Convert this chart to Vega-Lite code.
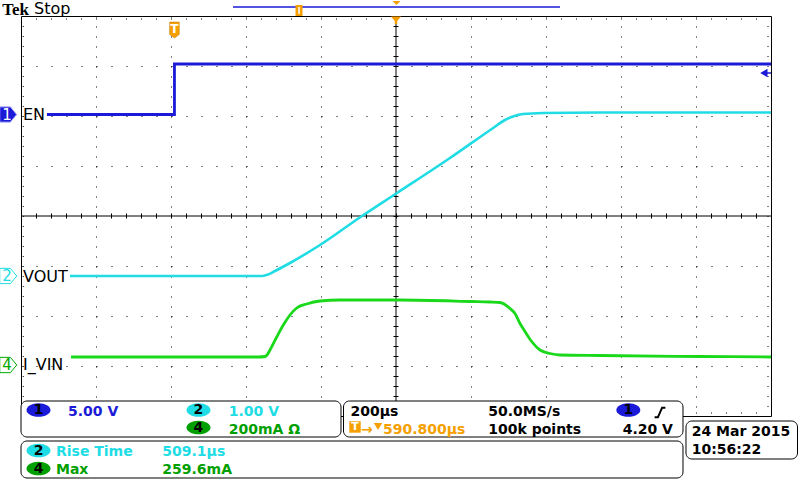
{
  "$schema": "https://vega.github.io/schema/vega-lite/v6.json",
  "width": 750,
  "height": 400,
  "autosize": {"type": "none"},
  "padding": {"left": 21, "top": 16, "right": 29, "bottom": 64},
  "background": "white",
  "config": {"view": {"stroke": "black", "strokeWidth": 1}, "font": "DejaVu Sans"},
  "datasets": {
    "en": [{"t": -930.7, "v": 2.03}, {"t": -590.8, "v": 3.04}, {"t": 1000, "v": 3.04}],
    "vout": [
      {"t": -869.3, "v": -1.2}, {"t": -357.3, "v": -1.2}, {"t": -344.8, "v": -1.18}, {"t": -322.7, "v": -1.1},
      {"t": -282.7, "v": -0.94}, {"t": -202.7, "v": -0.58}, {"t": -90.7, "v": 0.0}, {"t": 2.7, "v": 0.46},
      {"t": 144, "v": 1.16}, {"t": 255.2, "v": 1.74}, {"t": 290.7, "v": 1.92}, {"t": 312, "v": 1.99},
      {"t": 338.7, "v": 2.04}, {"t": 392, "v": 2.06}, {"t": 544, "v": 2.07}, {"t": 1000, "v": 2.07}
    ],
    "ivin": [
      {"t": -866.7, "v": -2.82}, {"t": -368, "v": -2.82}, {"t": -349.3, "v": -2.81}, {"t": -344, "v": -2.78},
      {"t": -336, "v": -2.68}, {"t": -318.1, "v": -2.42}, {"t": -300.5, "v": -2.18}, {"t": -282.7, "v": -1.98},
      {"t": -264.8, "v": -1.84}, {"t": -238.1, "v": -1.76}, {"t": -202.7, "v": -1.7}, {"t": -149.3, "v": -1.68},
      {"t": 10.7, "v": -1.68}, {"t": 201.9, "v": -1.71}, {"t": 250.7, "v": -1.72}, {"t": 277.3, "v": -1.73},
      {"t": 304, "v": -1.85}, {"t": 317.3, "v": -1.95}, {"t": 330.7, "v": -2.15}, {"t": 344, "v": -2.31},
      {"t": 361.9, "v": -2.51}, {"t": 384, "v": -2.68}, {"t": 410.7, "v": -2.75}, {"t": 437.3, "v": -2.78},
      {"t": 544, "v": -2.79}, {"t": 810.7, "v": -2.81}, {"t": 1000, "v": -2.82}
    ]
  },
  "encoding": {
    "x": {"field": "t", "type": "quantitative", "scale": {"domain": [-1000, 1000], "nice": false, "zero": false},
      "axis": {"values": [-800, -600, -400, -200, 200, 400, 600, 800], "grid": true, "gridDash": [1, 9], "gridColor": "#000", "gridOpacity": 1, "labels": false, "ticks": false, "domain": false, "title": null}},
    "y": {"field": "v", "type": "quantitative", "scale": {"domain": [-4, 4], "nice": false, "zero": false},
      "axis": {"values": [-3, -2, -1, 1, 2, 3], "grid": true, "gridDash": [1, 14], "gridColor": "#000", "gridOpacity": 1, "labels": false, "ticks": false, "domain": false, "title": null}}
  },
  "layer": [
    {"data": {"values": [{"t": -1000, "t2": 1000, "v": 0}]}, "mark": {"type": "rule", "color": "black", "strokeWidth": 1}, "encoding": {"x2": {"field": "t2"}}},
    {"data": {"values": [{"t": -1000, "t2": 1000, "v": 0}]}, "mark": {"type": "rule", "color": "black", "strokeWidth": 5, "strokeDash": [1, 14]}, "encoding": {"x2": {"field": "t2"}}},
    {"data": {"values": [{"t": 0, "v": 4, "v2": -4}]}, "mark": {"type": "rule", "color": "black", "strokeWidth": 1}, "encoding": {"y2": {"field": "v2"}}},
    {"data": {"values": [{"t": 0, "v": 4, "v2": -4}]}, "mark": {"type": "rule", "color": "black", "strokeWidth": 5, "strokeDash": [1, 9]}, "encoding": {"y2": {"field": "v2"}}},
    {"data": {"values": [{"t": -1000, "t2": 1000, "v": 3.94}, {"t": -1000, "t2": 1000, "v": -3.94}]}, "mark": {"type": "rule", "color": "black", "strokeWidth": 1, "strokeDash": [1, 14]}, "encoding": {"x2": {"field": "t2"}}},
    {"data": {"values": [{"t": -994, "v": 4, "v2": -4}, {"t": 992, "v": 4, "v2": -4}]}, "mark": {"type": "rule", "color": "black", "strokeWidth": 1, "strokeDash": [1, 9]}, "encoding": {"y2": {"field": "v2"}}},

    {"data": {"name": "en"}, "mark": {"type": "line", "color": "#1a1ad8", "strokeWidth": 2.8, "interpolate": "step-after"}},
    {"data": {"name": "vout"}, "mark": {"type": "line", "color": "#20dce4", "strokeWidth": 2.6, "interpolate": "monotone"}},
    {"data": {"name": "ivin"}, "mark": {"type": "line", "color": "#1ad81a", "strokeWidth": 2.8, "interpolate": "monotone"}},

    {"data": {"values": [{"t": -590.8, "v": 3.72}]}, "mark": {"type": "point", "shape": "M-0.6,-1H0.6V0.55L0,1L-0.6,0.55Z", "size": 256, "filled": true, "fill": "#f5a000", "stroke": "#c07800", "strokeWidth": 0.5, "opacity": 1}},
    {"data": {"values": [{"t": -590.8, "v": 3.72, "label": "T"}]}, "mark": {"type": "text", "color": "white", "fontSize": 12, "fontWeight": "bold", "baseline": "middle", "align": "center", "dy": -1}, "encoding": {"text": {"field": "label"}}},

    {"data": {"values": [{"t": 981, "t2": 1000, "v": 2.86}]}, "mark": {"type": "rule", "color": "#1a1ad8", "strokeWidth": 1.5}, "encoding": {"x2": {"field": "t2"}}},
    {"data": {"values": [{"t": 981, "v": 2.86}]}, "mark": {"type": "point", "shape": "triangle-left", "size": 70, "filled": true, "color": "#1a1ad8", "opacity": 1}},

    {"data": {"values": [{"t": -434.7, "t2": 437.3, "v": 4.18}]}, "mark": {"type": "rule", "color": "#1a1ad8", "strokeWidth": 1.5, "clip": false}, "encoding": {"x2": {"field": "t2"}}},
    {"data": {"values": [{"t": -268, "t2": -249.3, "v": 4.22, "v2": 4.0}]}, "mark": {"type": "rect", "color": "#f5a000", "clip": false}, "encoding": {"x2": {"field": "t2"}, "y2": {"field": "v2"}}},
    {"data": {"values": [{"t": -258.6, "v": 4.18, "v2": 4.04}]}, "mark": {"type": "rule", "color": "white", "strokeWidth": 1.5}, "encoding": {"y2": {"field": "v2"}}},
    {"data": {"values": [{"t": 1.3, "v": 4.26}]}, "mark": {"type": "point", "shape": "M-1,-0.5H1L0,0.5Z", "size": 64, "filled": true, "color": "#f5a000", "opacity": 1}},
    {"data": {"values": [{"t": 0, "v": 3.93}]}, "mark": {"type": "point", "shape": "M-1,-0.6H1L0.25,0.3V0.9H-0.25V0.3Z", "size": 100, "filled": true, "color": "#f5a000", "opacity": 1}},

    {"data": {"values": [{"t": -1034, "v": 2.03}]}, "mark": {"type": "point", "shape": "M-1,-0.9H0.25L1,0L0.25,0.9H-1Z", "size": 289, "filled": true, "fill": "#1a1ad8", "stroke": "#b8b8ff", "strokeWidth": 1, "opacity": 1}},
    {"data": {"values": [{"t": -1034, "v": -1.2}, {"t": -1034, "v": -2.98}]}, "mark": {"type": "point", "shape": "M-1,-0.9H0.25L1,0L0.25,0.9H-1Z", "size": 289, "filled": true, "fill": "white", "opacity": 1, "strokeWidth": 1},
      "encoding": {"stroke": {"field": "v", "type": "nominal", "scale": {"domain": [-1.2, -2.98], "range": ["#20dce4", "#00a800"]}, "legend": null}}},
    {"data": {"values": [{"t": -1037, "v": 2.03, "label": "1"}]}, "mark": {"type": "text", "color": "white", "fontSize": 15, "baseline": "middle", "align": "center"}, "encoding": {"text": {"field": "label"}}},
    {"data": {"values": [{"t": -1037, "v": -1.2, "label": "2"}]}, "mark": {"type": "text", "color": "#20dce4", "fontSize": 15, "baseline": "middle", "align": "center"}, "encoding": {"text": {"field": "label"}}},
    {"data": {"values": [{"t": -1037, "v": -2.98, "label": "4"}]}, "mark": {"type": "text", "color": "#00a800", "fontSize": 15, "baseline": "middle", "align": "center"}, "encoding": {"text": {"field": "label"}}},

    {"data": {"values": [{"t": -994.7, "v": 1.93, "label": "EN"}, {"t": -994.7, "v": -1.314, "label": "VOUT"}, {"t": -994.7, "v": -3.08, "label": "I_VIN"}]},
      "mark": {"type": "text", "color": "black", "fontSize": 16, "baseline": "alphabetic", "align": "left"}, "encoding": {"text": {"field": "label"}}},
    {"data": {"values": [{"t": -1050, "v": 4.03, "label": "Tek"}]}, "mark": {"type": "text", "color": "black", "font": "Liberation Serif", "fontWeight": "bold", "fontSize": 17, "baseline": "alphabetic", "align": "left"}, "encoding": {"text": {"field": "label"}}},
    {"data": {"values": [{"t": -965.3, "v": 4.04, "label": "Stop"}]}, "mark": {"type": "text", "color": "black", "fontSize": 16, "baseline": "alphabetic", "align": "left"}, "encoding": {"text": {"field": "label"}}},

    {"data": {"values": [
      {"t": -1000, "t2": -146.7, "v": -3.7, "v2": -4.42},
      {"t": -140, "t2": 765.3, "v": -3.7, "v2": -4.42},
      {"t": -1000, "t2": 765.3, "v": -4.5, "v2": -5.24},
      {"t": 773.3, "t2": 1070.7, "v": -4.1, "v2": -4.86}
    ]}, "mark": {"type": "rect", "fill": "white", "stroke": "black", "strokeWidth": 1, "cornerRadius": 6, "clip": false}, "encoding": {"x2": {"field": "t2"}, "y2": {"field": "v2"}}},

    {"data": {"values": [
      {"t": -953.3, "v": -3.88, "ch": "1"}, {"t": -526.7, "v": -3.88, "ch": "2"}, {"t": -526.7, "v": -4.23, "ch": "4"},
      {"t": 619.5, "v": -3.88, "ch": "1"}, {"t": -953.3, "v": -4.69, "ch": "2"}, {"t": -953.3, "v": -5.05, "ch": "4"}
    ]}, "mark": {"type": "point", "shape": "M-1,0A1,0.57,0,1,1,1,0A1,0.57,0,1,1,-1,0Z", "size": 576, "filled": true, "opacity": 1, "strokeWidth": 0},
      "encoding": {"color": {"field": "ch", "type": "nominal", "scale": {"domain": ["1", "2", "4"], "range": ["#1a1ad8", "#20dce4", "#00a000"]}, "legend": null}}},
    {"data": {"values": [
      {"t": -953.3, "v": -3.88, "label": "1"}, {"t": -526.7, "v": -3.88, "label": "2"}, {"t": -526.7, "v": -4.23, "label": "4"},
      {"t": 619.5, "v": -3.88, "label": "1"}, {"t": -953.3, "v": -4.69, "label": "2"}, {"t": -953.3, "v": -5.05, "label": "4"}
    ]}, "mark": {"type": "text", "color": "black", "fontSize": 14, "fontWeight": "bold", "baseline": "middle", "align": "center"}, "encoding": {"text": {"field": "label"}}},

    {"data": {"values": [
      {"t": -121.3, "v": -3.99, "label": "200µs"}, {"t": 246.1, "v": -3.99, "label": "50.0MS/s"},
      {"t": 246.1, "v": -4.35, "label": "100k points"}, {"t": 604.5, "v": -4.35, "label": "4.20 V"},
      {"t": 788.5, "v": -4.4, "label": "24 Mar  2015"}, {"t": 788.5, "v": -4.76, "label": "10:56:22"}
    ]}, "mark": {"type": "text", "color": "black", "fontSize": 14, "fontWeight": "bold", "baseline": "alphabetic", "align": "left"}, "encoding": {"text": {"field": "label"}}},
    {"data": {"values": [{"t": -874.7, "v": -3.99, "label": "5.00 V"}]}, "mark": {"type": "text", "color": "#1a1ad8", "fontSize": 14, "fontWeight": "bold", "baseline": "alphabetic", "align": "left"}, "encoding": {"text": {"field": "label"}}},
    {"data": {"values": [{"t": -446.1, "v": -3.99, "label": "1.00 V"}, {"t": -906.7, "v": -4.8, "label": "Rise Time"}, {"t": -623.2, "v": -4.8, "label": "509.1µs"}]},
      "mark": {"type": "text", "color": "#20dce4", "fontSize": 14, "fontWeight": "bold", "baseline": "alphabetic", "align": "left"}, "encoding": {"text": {"field": "label"}}},
    {"data": {"values": [{"t": -446.1, "v": -4.35, "label": "200mA Ω"}, {"t": -906.7, "v": -5.16, "label": "Max"}, {"t": -623.2, "v": -5.16, "label": "259.6mA"}]},
      "mark": {"type": "text", "color": "#00a000", "fontSize": 14, "fontWeight": "bold", "baseline": "alphabetic", "align": "left"}, "encoding": {"text": {"field": "label"}}},
    {"data": {"values": [{"t": -93.3, "v": -4.35, "label": "→"}, {"t": -34.7, "v": -4.35, "label": "590.800µs"}]},
      "mark": {"type": "text", "color": "#f5a000", "fontSize": 14, "fontWeight": "bold", "baseline": "alphabetic", "align": "left"}, "encoding": {"text": {"field": "label"}}},

    {"data": {"values": [{"t": -109.3, "v": -4.22}]}, "mark": {"type": "point", "shape": "square", "size": 130, "filled": true, "color": "#f5a000", "opacity": 1}},
    {"data": {"values": [{"t": -109.3, "v": -4.22, "label": "T"}]}, "mark": {"type": "text", "color": "white", "fontSize": 11, "fontWeight": "bold", "baseline": "middle", "align": "center"}, "encoding": {"text": {"field": "label"}}},
    {"data": {"values": [{"t": -48, "v": -4.21}]}, "mark": {"type": "point", "shape": "triangle-down", "size": 70, "filled": true, "color": "#f5a000", "opacity": 1}},
    {"data": {"values": [{"t": 704, "v": -3.93}]}, "mark": {"type": "point", "shape": "M-0.9,0.8H-0.35L0.35,-0.8H0.9", "size": 144, "filled": false, "color": "black", "strokeWidth": 2, "opacity": 1}}
  ]
}
